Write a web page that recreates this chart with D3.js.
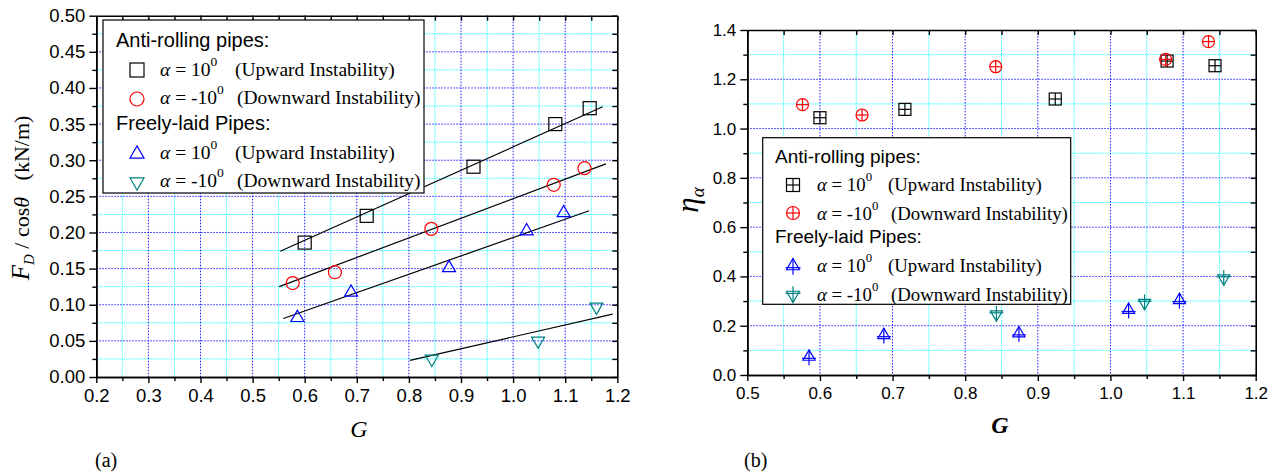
<!DOCTYPE html>
<html>
<head>
<meta charset="utf-8">
<script src="https://cdn.jsdelivr.net/npm/d3@7"></script>
<style>
  body { margin: 0; background: #fff; }
  svg { display: block; }
  .tick text { font-family: "Liberation Sans", Arial, sans-serif; fill: #000; }
  .serif { font-family: "Liberation Serif", "Times New Roman", serif; }
  .sans { font-family: "Liberation Sans", Arial, sans-serif; }
</style>
</head>
<body>
<div class="svg-area"></div>
<script>
// ---- data ----
// panel (a): F_D / cos(theta) vs G
const antiUpA   = [[0.600, 0.186], [0.719, 0.223], [0.924, 0.291], [1.081, 0.350], [1.147, 0.372]];
const antiDownA = [[0.577, 0.130], [0.658, 0.145], [0.843, 0.205], [1.078, 0.266], [1.137, 0.289]];
const freeUpA   = [[0.586, 0.082], [0.689, 0.117], [0.877, 0.151], [1.026, 0.202], [1.097, 0.227]];
const freeDownA = [[0.844, 0.025], [1.048, 0.050], [1.160, 0.097]];
// fitted lines [G0, F0, G1, F1]
const fitLinesA = [[0.553, 0.174, 1.172, 0.374],
                   [0.551, 0.125, 1.178, 0.295],
                   [0.559, 0.081, 1.146, 0.230],
                   [0.802, 0.023, 1.191, 0.087]];

// panel (b): eta_alpha vs G
const antiUpB   = [[0.600, 1.044], [0.717, 1.078], [0.924, 1.120], [1.078, 1.274], [1.144, 1.255]];
const antiDownB = [[0.576, 1.097], [0.658, 1.055], [0.842, 1.251], [1.076, 1.281], [1.135, 1.353]];
const freeUpB   = [[0.585, 0.074], [0.688, 0.162], [0.874, 0.169], [1.025, 0.264], [1.095, 0.304]];
const freeDownB = [[0.843, 0.246], [1.047, 0.293], [1.156, 0.392]];

// ticks
const xTicksA = [0.2, 0.3, 0.4, 0.5, 0.6, 0.7, 0.8, 0.9, 1.0, 1.1, 1.2];
const xMinorA = [0.25, 0.35, 0.45, 0.55, 0.65, 0.75, 0.85, 0.95, 1.05, 1.15];
const yTicksA = [0.00, 0.05, 0.10, 0.15, 0.20, 0.25, 0.30, 0.35, 0.40, 0.45, 0.50];
const yMinorA = [0.025, 0.075, 0.125, 0.175, 0.225, 0.275, 0.325, 0.375, 0.425, 0.475];
const xTicksB = [0.5, 0.6, 0.7, 0.8, 0.9, 1.0, 1.1, 1.2];
const xMinorB = [0.55, 0.65, 0.75, 0.85, 0.95, 1.05, 1.15];
const yTicksB = [0.0, 0.2, 0.4, 0.6, 0.8, 1.0, 1.2, 1.4];
const yMinorB = [0.1, 0.3, 0.5, 0.7, 0.9, 1.1, 1.3];

const legendHeads = ["Anti-rolling pipes:", "Freely-laid Pipes:"];
const legendAngles = ["10", "-10"];
const legendNotes = ["(Upward Instability)", "(Downward Instability)"];

const colors = { black: "#000000", red: "#ff0000", blue: "#0000ff", teal: "#008080" };

let svg = d3.select(".svg-area").append("svg")
    .attr("width", 1275)
    .attr("height", 475);

// ---- marker shapes ----
function drawMarker(g, kind, cx, cy, s, color, plus) {
    let m = g.append("g").attr("transform", "translate(" + cx + "," + cy + ")")
        .attr("fill", "none").attr("stroke", color).attr("stroke-width", 1.2);
    let h = s / 2;
    if (kind === "square") {
        m.append("rect").attr("x", -h).attr("y", -h).attr("width", s).attr("height", s);
        if (plus) {
            m.append("line").attr("x1", -h).attr("x2", h).attr("y1", 0).attr("y2", 0);
            m.append("line").attr("x1", 0).attr("x2", 0).attr("y1", -h).attr("y2", h);
        }
    } else if (kind === "circle") {
        m.append("circle").attr("r", h);
        if (plus) {
            m.append("line").attr("x1", -h).attr("x2", h).attr("y1", 0).attr("y2", 0);
            m.append("line").attr("x1", 0).attr("x2", 0).attr("y1", -h).attr("y2", h);
        }
    } else if (kind === "up" || kind === "down") {
        let d = kind === "up" ? 1 : -1;
        let th = s * 0.866;
        let pts = [[0, -d * th * 2 / 3], [h, d * th / 3], [-h, d * th / 3]];
        m.append("path").attr("d", "M" + pts.join("L") + "Z");
        if (plus) {
            m.append("line").attr("x1", -h - 1).attr("x2", h + 1).attr("y1", d * th * 0.15).attr("y2", d * th * 0.15);
            m.append("line").attr("x1", 0).attr("x2", 0).attr("y1", -d * th * 2 / 3).attr("y2", d * (th / 3 + 5));
        }
    }
}

// ---- one panel ----
function drawPanel(p) {
    let x = d3.scaleLinear().domain(p.xDomain).range([p.left, p.right]);
    let y = d3.scaleLinear().domain(p.yDomain).range([p.bottom, p.top]);
    let g = svg.append("g");

    // grid: minor cyan, major blue, both dotted
    let grid = g.append("g").attr("fill", "none").attr("stroke-width", 1);
    p.xMinor.forEach(v => grid.append("line").attr("x1", x(v)).attr("x2", x(v))
        .attr("y1", p.top).attr("y2", p.bottom).attr("stroke", "#33ffff").attr("stroke-dasharray", "1.5,1"));
    p.yMinor.forEach(v => grid.append("line").attr("y1", y(v)).attr("y2", y(v))
        .attr("x1", p.left).attr("x2", p.right).attr("stroke", "#33ffff").attr("stroke-dasharray", "1.5,1"));
    p.xTicks.slice(1, -1).forEach(v => grid.append("line").attr("x1", x(v)).attr("x2", x(v))
        .attr("y1", p.top).attr("y2", p.bottom).attr("stroke", "#2020ff").attr("stroke-dasharray", "1.5,1.5"));
    p.yTicks.slice(1, -1).forEach(v => grid.append("line").attr("y1", y(v)).attr("y2", y(v))
        .attr("x1", p.left).attr("x2", p.right).attr("stroke", "#2020ff").attr("stroke-dasharray", "1.5,1.5"));

    // axes
    function styleAxis(sel) {
        sel.select(".domain").attr("stroke", "#000").attr("stroke-width", 1.6);
        sel.selectAll(".tick line").attr("stroke", "#000").attr("stroke-width", 1.4);
        sel.selectAll(".tick text").attr("font-size", p.tickFont + "px");
    }
    g.append("g").attr("transform", "translate(0," + p.bottom + ")")
        .call(d3.axisBottom(x).tickValues(p.xTicks).tickSize(6).tickSizeOuter(0).tickPadding(6).tickFormat(d3.format(".1f")))
        .call(styleAxis);
    g.append("g").attr("transform", "translate(0," + p.bottom + ")")
        .call(d3.axisBottom(x).tickValues(p.xMinor).tickSize(4).tickSizeOuter(0).tickFormat(""))
        .call(styleAxis);
    g.append("g").attr("transform", "translate(" + p.left + ",0)")
        .call(d3.axisLeft(y).tickValues(p.yTicks).tickSize(7).tickSizeOuter(0).tickPadding(4).tickFormat(d3.format(p.yFormat)))
        .call(styleAxis);
    g.append("g").attr("transform", "translate(" + p.left + ",0)")
        .call(d3.axisLeft(y).tickValues(p.yMinor).tickSize(4).tickSizeOuter(0).tickFormat(""))
        .call(styleAxis);
    // mirrored top and right, ticks inward
    g.append("g").attr("transform", "translate(0," + p.top + ")")
        .call(d3.axisBottom(x).tickValues(p.xTicks.concat(p.xMinor)).tickSize(5).tickSizeOuter(0).tickFormat(""))
        .call(styleAxis);
    g.append("g").attr("transform", "translate(" + p.right + ",0)")
        .call(d3.axisLeft(y).tickValues(p.yTicks.concat(p.yMinor)).tickSize(5).tickSizeOuter(0).tickFormat(""))
        .call(styleAxis);

    // fit lines
    (p.fits || []).forEach(f => g.append("line")
        .attr("x1", x(f[0])).attr("y1", y(f[1])).attr("x2", x(f[2])).attr("y2", y(f[3]))
        .attr("stroke", "#000").attr("stroke-width", 1.2));

    // markers
    p.series.forEach(s => s.data.forEach(d =>
        drawMarker(g, s.kind, x(d[0]), y(d[1]), p.markerSize, s.color, p.plus)));

    // legend
    let L = p.legend;
    g.append("rect").attr("x", L.x0).attr("y", L.y0).attr("width", L.x1 - L.x0).attr("height", L.y1 - L.y0)
        .attr("fill", "#fff").attr("stroke", "#000").attr("stroke-width", 1.2);
    legendHeads.forEach((t, i) => g.append("text").attr("class", "sans")
        .attr("x", L.headX).attr("y", L.headY[i]).attr("font-size", L.headFont + "px").text(t));
    p.series.forEach((s, i) => {
        drawMarker(g, s.kind, L.symX, L.symY[i], p.markerSize + 1, s.color, p.plus);
        let t = g.append("text").attr("class", "serif").attr("x", L.alphaX).attr("y", L.rowY[i])
            .attr("font-size", L.rowFont + "px");
        t.append("tspan").attr("font-style", "italic").text("α");
        t.append("tspan").text(" = " + legendAngles[i % 2]);
        t.append("tspan").attr("dy", -10).attr("font-size", (L.rowFont - 6) + "px").text("0");
        g.append("text").attr("class", "serif").attr("x", L.noteX[i % 2]).attr("y", L.rowY[i])
            .attr("font-size", L.rowFont + "px").text(legendNotes[i % 2]);
    });
    return g;
}

// ---- panel (a) ----
let ga = drawPanel({
    xDomain: [0.2, 1.2], yDomain: [0, 0.5],
    left: 96.3, right: 617.3, top: 15.7, bottom: 377,
    xTicks: xTicksA, xMinor: xMinorA, yTicks: yTicksA, yMinor: yMinorA,
    yFormat: ".2f", tickFont: 18.5, markerSize: 13, plus: false,
    fits: fitLinesA,
    series: [{ data: antiUpA, kind: "square", color: colors.black },
             { data: antiDownA, kind: "circle", color: colors.red },
             { data: freeUpA, kind: "up", color: colors.blue },
             { data: freeDownA, kind: "down", color: colors.teal }],
    legend: { x0: 103, y0: 20, x1: 424, y1: 193, headX: 116, headY: [47, 130], headFont: 20,
              symX: 137, symY: [70, 99, 154, 182], alphaX: 160, rowY: [76, 104, 159, 187],
              noteX: [235, 237], rowFont: 19.5 }
});

// ---- panel (b) ----
let gb = drawPanel({
    xDomain: [0.5, 1.2], yDomain: [0, 1.4],
    left: 747.3, right: 1255.7, top: 30, bottom: 375,
    xTicks: xTicksB, xMinor: xMinorB, yTicks: yTicksB, yMinor: yMinorB,
    yFormat: ".1f", tickFont: 17, markerSize: 12, plus: true,
    series: [{ data: antiUpB, kind: "square", color: colors.black },
             { data: antiDownB, kind: "circle", color: colors.red },
             { data: freeUpB, kind: "up", color: colors.blue },
             { data: freeDownB, kind: "down", color: colors.teal }],
    legend: { x0: 762.7, y0: 137.7, x1: 1070.7, y1: 304.3, headX: 775, headY: [163, 243], headFont: 19,
              symX: 793, symY: [185, 213, 266, 295], alphaX: 817, rowY: [191, 220, 272, 301],
              noteX: [888, 891], rowFont: 18.8 }
});

// ---- axis titles and panel tags ----
let yla = svg.append("text").attr("class", "serif").attr("font-size", "22px")
    .attr("text-anchor", "middle").attr("transform", "translate(29,198) rotate(-90)")
    .attr("xml:space", "preserve");
yla.append("tspan").attr("font-style", "italic").attr("font-size", "25px").text("F");
yla.append("tspan").attr("font-style", "italic").attr("font-size", "15px").attr("dy", 5).text("D");
yla.append("tspan").attr("dy", -5).text(" / cos");
yla.append("tspan").attr("font-style", "italic").text("θ");
yla.append("tspan").text("   (kN/m)");

svg.append("text").attr("class", "serif").attr("font-size", "24px").attr("font-style", "italic")
    .attr("x", 359).attr("y", 437).attr("text-anchor", "middle").text("G");
svg.append("text").attr("class", "serif").attr("font-size", "20px")
    .attr("x", 95).attr("y", 467).text("(a)");

let ylb = svg.append("text").attr("class", "serif").attr("text-anchor", "middle")
    .attr("transform", "translate(698,200) rotate(-90)");
ylb.append("tspan").attr("font-style", "italic").attr("font-size", "31px").text("η");
ylb.append("tspan").attr("font-style", "italic").attr("font-size", "19px").attr("dy", 6).text("α");

svg.append("text").attr("class", "serif").attr("font-size", "24px").attr("font-style", "italic")
    .attr("font-weight", "bold").attr("x", 1000).attr("y", 433).attr("text-anchor", "middle").text("G");
svg.append("text").attr("class", "serif").attr("font-size", "20px")
    .attr("x", 744).attr("y", 467).text("(b)");
</script>
</body>
</html>
